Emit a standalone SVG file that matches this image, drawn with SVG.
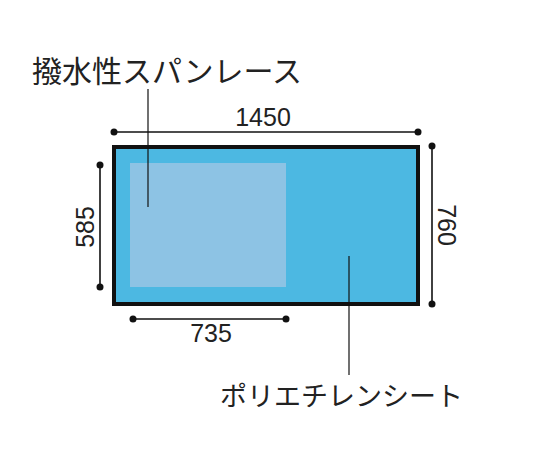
<svg xmlns="http://www.w3.org/2000/svg" width="540" height="450" viewBox="0 0 540 450">
<style>
.dim{stroke:#111;stroke-width:1.6;fill:none}
.lead{stroke:#111;stroke-width:1.2;fill:none}
.dot{fill:#111}
.num{font-family:"Liberation Sans",Arial,sans-serif;font-size:25px;fill:#222;text-anchor:middle}
.jp{font-family:"Noto Sans CJK JP","Noto Sans",sans-serif;fill:#222}
</style>
<rect width="540" height="450" fill="#fff"/>
<g id="sheet">
<rect x="114" y="147" width="304" height="157" fill="#4CB8E2" stroke="#111" stroke-width="4"/>
</g>
<g id="spanlace">
<rect x="130" y="163" width="156" height="124" fill="#8DC3E4"/>
</g>
<g id="connectors">
<line class="dim" x1="114" y1="132" x2="418" y2="132"/>
<circle class="dot" cx="114" cy="132" r="3.5"/>
<circle class="dot" cx="418" cy="132" r="3.5"/>
<line class="dim" x1="100" y1="165" x2="100" y2="287"/>
<circle class="dot" cx="100" cy="165" r="3.5"/>
<circle class="dot" cx="100" cy="287" r="3.5"/>
<line class="dim" x1="432" y1="146" x2="432" y2="304"/>
<circle class="dot" cx="432" cy="146" r="3.5"/>
<circle class="dot" cx="432" cy="304" r="3.5"/>
<line class="dim" x1="133" y1="319" x2="286" y2="319"/>
<circle class="dot" cx="133" cy="319" r="3.5"/>
<circle class="dot" cx="286" cy="319" r="3.5"/>
<line class="lead" x1="148" y1="89" x2="148" y2="207"/>
<line class="lead" x1="349" y1="256" x2="349" y2="375"/>
</g>
<g id="labels">
<text class="num" x="263" y="126">1450</text>
<text class="num" x="211" y="342">735</text>
<text class="num" transform="translate(94,227) rotate(-90)">585</text>
<text class="num" transform="translate(438,225) rotate(90)">760</text>
<text class="jp" x="32" y="82" font-size="30">撥水性スパンレース</text>
<text class="jp" x="220" y="406" font-size="27">ポリエチレンシート</text>
</g>
</svg>
